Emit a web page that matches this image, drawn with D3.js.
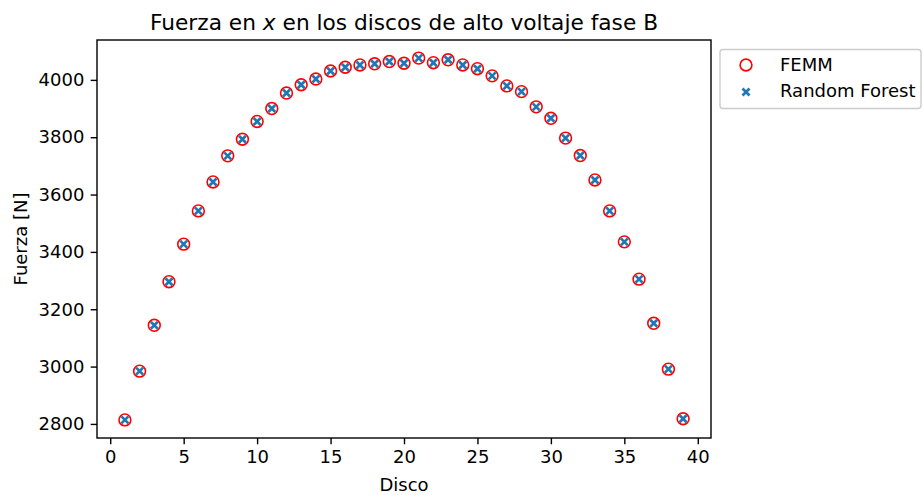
<!DOCTYPE html>
<html>
<head>
<meta charset="utf-8">
<script src="https://cdn.jsdelivr.net/npm/d3@7"></script>
<style>
  body { margin: 0; background: #fff; }
  svg { font-family: "DejaVu Sans", sans-serif; }
</style>
</head>
<body>
<svg id="chart" width="924" height="495"></svg>
<script>
// Disc numbers and computed x-force per disc
const discos = d3.range(1, 40);
const femm = [2814, 2984, 3144, 3296, 3427, 3543, 3644, 3735, 3793, 3855,
              3900, 3954, 3983, 4003, 4031, 4044, 4052, 4056, 4064, 4058,
              4076, 4060, 4070, 4052, 4039, 4014, 3979, 3959, 3906, 3866,
              3797, 3736, 3651, 3543, 3435, 3305, 3151, 2991, 2818];
const randomForest = [2814, 2984, 3144, 3296, 3427, 3543, 3644, 3735, 3793, 3855,
              3900, 3954, 3983, 4003, 4031, 4044, 4052, 4056, 4064, 4058,
              4076, 4060, 4070, 4052, 4039, 4014, 3979, 3959, 3906, 3866,
              3797, 3736, 3651, 3543, 3435, 3305, 3151, 2991, 2818];
const xTicks = [0, 5, 10, 15, 20, 25, 30, 35, 40];
const yTicks = [2800, 3000, 3200, 3400, 3600, 3800, 4000];

const FS = 18;        // tick / label / legend font size
const TITLE_FS = 21.7;

const svg = d3.select("#chart");
const plot = { left: 97, right: 711, top: 40, bottom: 438 };

// 5% padding around the data on both axes
const xPad = (d3.max(discos) - d3.min(discos)) * 0.05;
const allY = femm.concat(randomForest);
const yPad = (d3.max(allY) - d3.min(allY)) * 0.05;

const x = d3.scaleLinear()
  .domain([d3.min(discos) - xPad, d3.max(discos) + xPad])
  .range([plot.left, plot.right]);
const y = d3.scaleLinear()
  .domain([d3.min(allY) - yPad, d3.max(allY) + yPad])
  .range([plot.bottom, plot.top]);

// Axes
const fmt = d3.format("d");
const xAxis = svg.append("g")
  .attr("transform", `translate(0,${plot.bottom})`)
  .call(d3.axisBottom(x).tickValues(xTicks).tickFormat(fmt)
    .tickSize(6.3).tickPadding(6).tickSizeOuter(0));
const yAxis = svg.append("g")
  .attr("transform", `translate(${plot.left},0)`)
  .call(d3.axisLeft(y).tickValues(yTicks).tickFormat(fmt)
    .tickSize(6.3).tickPadding(6.3).tickSizeOuter(0));
[xAxis, yAxis].forEach(g => {
  g.select(".domain").remove();
  g.selectAll(".tick line").attr("stroke", "#000").attr("stroke-width", 1.4);
  g.selectAll(".tick text").attr("font-size", FS).attr("fill", "#000")
    .attr("font-family", "DejaVu Sans, sans-serif");
});

// Frame around the plotting area
svg.append("rect")
  .attr("x", plot.left).attr("y", plot.top)
  .attr("width", plot.right - plot.left).attr("height", plot.bottom - plot.top)
  .attr("fill", "none").attr("stroke", "#000").attr("stroke-width", 1.4);

// FEMM: hollow red circles
svg.append("g").selectAll("circle")
  .data(discos.map((d, i) => [d, femm[i]]))
  .join("circle")
  .attr("cx", d => x(d[0])).attr("cy", d => y(d[1]))
  .attr("r", 5.9)
  .attr("fill", "none").attr("stroke", "#ff0000").attr("stroke-width", 1.6);

// Random Forest: blue crosses
const cross = (g, cx, cy, s) => g.append("path")
  .attr("d", `M${cx - s},${cy - s}L${cx + s},${cy + s}M${cx - s},${cy + s}L${cx + s},${cy - s}`)
  .attr("stroke", "#1f77b4").attr("stroke-width", 2.7).attr("fill", "none");
const rf = svg.append("g");
discos.forEach((d, i) => cross(rf, x(d), y(randomForest[i]), 3.5));

// Title and axis labels
const title = svg.append("text")
  .attr("x", (plot.left + plot.right) / 2).attr("y", 30)
  .attr("text-anchor", "middle").attr("font-size", TITLE_FS).attr("fill", "#000");
title.append("tspan").text("Fuerza en ");
title.append("tspan").attr("font-style", "italic").text("x");
title.append("tspan").text(" en los discos de alto voltaje fase B");

svg.append("text")
  .attr("x", (plot.left + plot.right) / 2).attr("y", 491)
  .attr("text-anchor", "middle").attr("font-size", FS).attr("fill", "#000")
  .text("Disco");
svg.append("text")
  .attr("transform", `translate(27,${(plot.top + plot.bottom) / 2}) rotate(-90)`)
  .attr("text-anchor", "middle").attr("font-size", FS).attr("fill", "#000")
  .text("Fuerza [N]");

// Legend
const leg = svg.append("g");
leg.append("rect")
  .attr("x", 720).attr("y", 49.5).attr("width", 201).attr("height", 59).attr("rx", 3)
  .attr("fill", "#fff").attr("stroke", "#ccc").attr("stroke-width", 1.4);
leg.append("circle").attr("cx", 746).attr("cy", 65).attr("r", 5.9)
  .attr("fill", "none").attr("stroke", "#ff0000").attr("stroke-width", 1.6);
cross(leg, 746, 92, 3.5);
leg.append("text").attr("x", 780).attr("y", 71).attr("font-size", FS).text("FEMM");
leg.append("text").attr("x", 780).attr("y", 97).attr("font-size", FS).text("Random Forest");
</script>
</body>
</html>
